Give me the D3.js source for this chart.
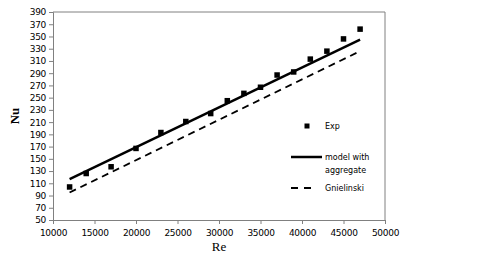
<!DOCTYPE html>
<html><head><meta charset="utf-8">
<script src="https://cdn.jsdelivr.net/npm/d3@7"></script>
<style>body{margin:0;background:#fff}svg{display:block}</style>
</head><body>
<svg id="c" width="480" height="261"></svg>
<script>
const expRe = [12000,14000,17000,20000,23000,26000,29000,31000,33000,35000,37000,39000,41000,43000,45000,47000];
const expNu = [104,126,137,167,193,211,224,245,257,267,287,292,313,326,346,362];
const modelRe = [12000,47000];
const modelNu = [117,345];
const gnRe = [12000,47000];
const gnNu = [95,326];
const xTicks = [10000,15000,20000,25000,30000,35000,40000,45000,50000];
const yTicks = d3.range(50,391,20);

const svg = d3.select("#c");
const L=53,R=385,T=12,B=220;
const x = d3.scaleLinear().domain([10000,50000]).range([L,R]);
const y = d3.scaleLinear().domain([50,390]).range([B,T]);

// frame
svg.append("line").attr("x1",L).attr("x2",R).attr("y1",T).attr("y2",T).attr("stroke","#808080");
svg.append("line").attr("x1",R).attr("x2",R).attr("y1",T).attr("y2",B).attr("stroke","#808080");

const fnt = "DejaVu Sans, sans-serif";
const yAx = svg.append("g").attr("transform",`translate(${L},0)`)
  .call(d3.axisLeft(y).tickValues(yTicks).tickSize(4).tickPadding(3));
yAx.select(".domain").attr("stroke","#808080");
yAx.selectAll(".tick line").attr("stroke","#808080");
yAx.selectAll("text").attr("font-family",fnt).attr("font-size",9).attr("fill","#000").attr("letter-spacing",-0.3);

const xAx = svg.append("g").attr("transform",`translate(0,${B})`)
  .call(d3.axisBottom(x).tickValues(xTicks).tickFormat(d3.format("d")).tickSize(4).tickPadding(6));
xAx.select(".domain").attr("stroke","#808080");
xAx.selectAll(".tick line").attr("stroke","#808080");
xAx.selectAll("text").attr("font-family",fnt).attr("font-size",9).attr("fill","#000").attr("letter-spacing",-0.3);

// lines
const line = d3.line().x(d=>x(d[0])).y(d=>y(d[1]));
svg.append("path").datum(gnRe.map((r,i)=>[r,gnNu[i]])).attr("d",line)
  .attr("fill","none").attr("stroke","#000").attr("stroke-width",1.8).attr("stroke-dasharray","7,5");
svg.append("path").datum(modelRe.map((r,i)=>[r,modelNu[i]])).attr("d",line)
  .attr("fill","none").attr("stroke","#000").attr("stroke-width",2.5);

// points
const ms=5.5;
svg.selectAll("rect.pt").data(expRe.map((r,i)=>[r,expNu[i]])).enter().append("rect")
  .attr("x",d=>x(d[0])-ms/2).attr("y",d=>y(d[1])-ms/2).attr("width",ms).attr("height",ms).attr("fill","#000");

// titles
svg.append("text").attr("transform","translate(19,116) rotate(-90)").attr("text-anchor","middle")
  .attr("font-family","Liberation Serif, serif").attr("font-weight","bold").attr("font-size",13).text("Nu");
svg.append("text").attr("x",219).attr("y",251).attr("text-anchor","middle")
  .attr("font-family","Liberation Serif, serif").attr("font-size",13).text("Re");

// legend
const lg = svg.append("g").attr("font-family",fnt).attr("font-size",8).attr("fill","#000");
lg.append("rect").attr("x",304.5).attr("y",123.5).attr("width",5).attr("height",5).attr("fill","#000");
lg.append("text").attr("x",325).attr("y",129).text("Exp");
lg.append("line").attr("x1",291).attr("x2",322).attr("y1",157).attr("y2",157).attr("stroke","#000").attr("stroke-width",2.5);
lg.append("text").attr("x",325).attr("y",160).text("model with");
lg.append("text").attr("x",325).attr("y",173).text("aggregate");
lg.append("line").attr("x1",291).attr("x2",312).attr("y1",188).attr("y2",188).attr("stroke","#000").attr("stroke-width",1.8).attr("stroke-dasharray","7,6");
lg.append("text").attr("x",325).attr("y",191).text("Gnielinski");
</script>
</body></html>
